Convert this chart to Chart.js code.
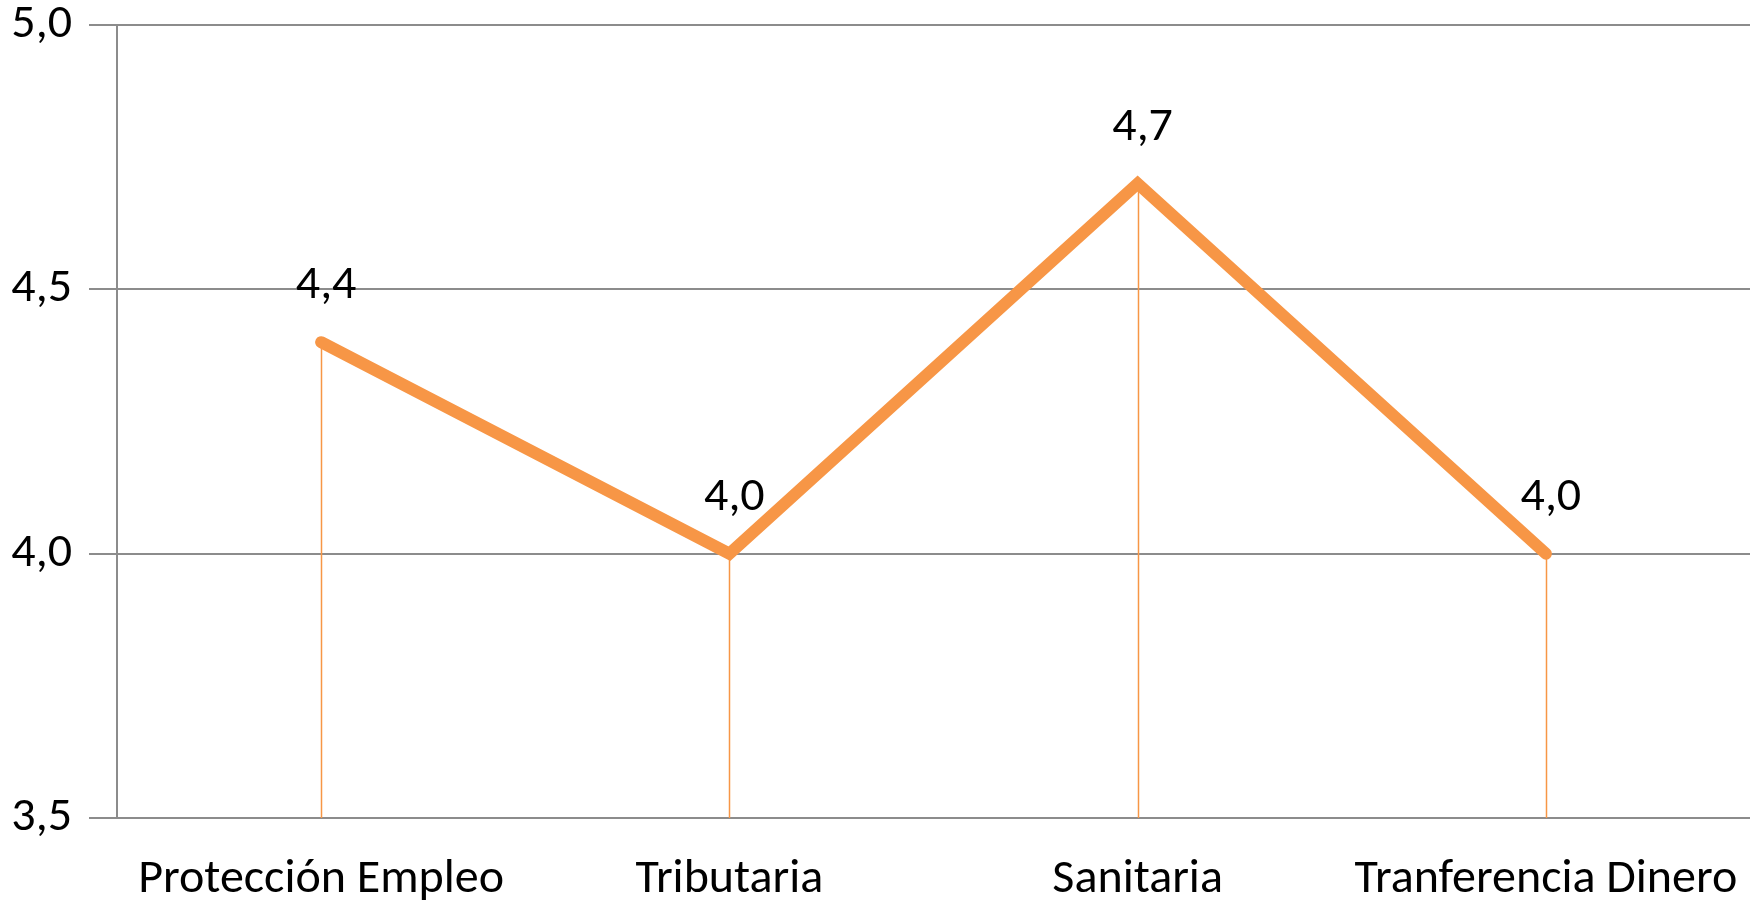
<!DOCTYPE html>
<html>
<head>
<meta charset="utf-8">
<script src="https://cdn.jsdelivr.net/npm/chart.js@4/dist/chart.umd.min.js"></script>
<style>
  html, body { margin: 0; padding: 0; background: #fff; }
  #grafica { width: 1756px; height: 903px; }
</style>
</head>
<body>
<div id="grafica"><canvas id="line-chart"></canvas></div>
<script>
// datos de la grafica
const categorias = ["Protección Empleo", "Tributaria", "Sanitaria", "Tranferencia Dinero"];
const valores = [4.4, 4.0, 4.7, 4.0];
const ticksY = [3.5, 4.0, 4.5, 5.0];

const naranja = '#F79646';
const gris = '#8c8c8c';
const fuente = 'Carlito, Calibri, Lato, sans-serif';
const tamFuente = 48;

const formato = v => Number(v).toFixed(1).replace('.', ',');

// lineas verticales desde cada punto hasta el eje
const lineasCaida = {
  id: 'lineasCaida',
  beforeDatasetsDraw(chart) {
    const ctx = chart.ctx;
    const meta = chart.getDatasetMeta(0);
    const abajo = chart.chartArea.bottom;
    ctx.save();
    ctx.strokeStyle = naranja;
    ctx.lineWidth = 1.5;
    meta.data.forEach(p => {
      ctx.beginPath();
      ctx.moveTo(Math.round(p.x) + 0.5, p.y);
      ctx.lineTo(Math.round(p.x) + 0.5, abajo);
      ctx.stroke();
    });
    ctx.restore();
  }
};

// etiquetas de valor encima de cada punto
const etiquetas = {
  id: 'etiquetas',
  afterDatasetsDraw(chart) {
    const ctx = chart.ctx;
    const meta = chart.getDatasetMeta(0);
    ctx.save();
    ctx.fillStyle = '#000';
    ctx.font = tamFuente + 'px ' + fuente;
    ctx.textAlign = 'center';
    ctx.textBaseline = 'middle';
    meta.data.forEach((p, i) => {
      ctx.fillText(formato(valores[i]), p.x + 5, p.y - 56);
    });
    ctx.restore();
  }
};

new Chart(document.getElementById('line-chart'), {
  type: 'line',
  data: {
    labels: categorias,
    datasets: [{
      data: valores,
      borderColor: naranja,
      borderWidth: 12,
      borderCapStyle: 'round',
      borderJoinStyle: 'miter',
      pointRadius: 0,
      tension: 0
    }]
  },
  options: {
    responsive: true,
    maintainAspectRatio: false,
    animation: false,
    layout: { padding: { top: 25, right: 6, left: 0, bottom: 0 } },
    plugins: { legend: { display: false }, tooltip: { enabled: false } },
    scales: {
      x: {
        offset: true,
        grid: { display: false },
        border: { display: false },
        ticks: {
          color: '#000',
          font: { family: fuente, size: tamFuente },
          padding: 25,
          maxRotation: 0,
          autoSkip: false
        },
        afterFit: s => {
          s.height = 85;
          s.paddingLeft = 0;
          s.paddingRight = 0;
        }
      },
      y: {
        min: 3.5,
        max: 5,
        afterBuildTicks: s => { s.ticks = ticksY.map(v => ({ value: v })); },
        grid: { color: gris, lineWidth: 2, tickLength: 28, drawTicks: true },
        border: { color: gris, width: 2 },
        ticks: {
          color: '#000',
          font: { family: fuente, size: tamFuente, lineHeight: 1 },
          padding: 17,
          callback: v => formato(v)
        },
        afterFit: s => {
          s.width = 117;
          s.paddingTop = 0;
          s.paddingBottom = 0;
        }
      }
    }
  },
  plugins: [lineasCaida, etiquetas]
});
</script>
</body>
</html>
